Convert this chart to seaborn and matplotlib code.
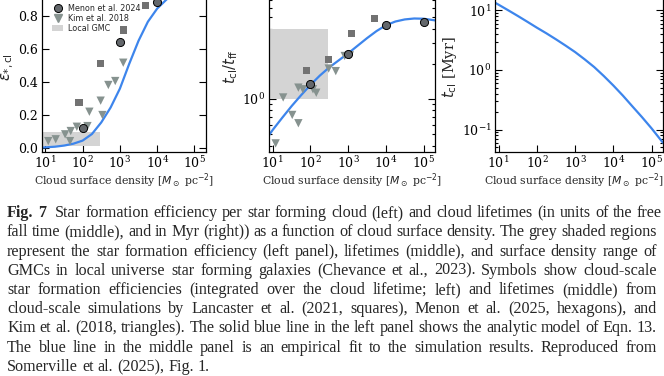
import numpy as np
import pandas as pd
import matplotlib
matplotlib.use("Agg")
import matplotlib.pyplot as plt
import seaborn as sns
from matplotlib.patches import Patch
from matplotlib.lines import Line2D
from matplotlib.ticker import NullFormatter

# ---------------- data ----------------
lancaster_sigma = [80, 300, 1250, 5000]
lancaster_eps = [0.277, 0.513, 0.715, 0.862]
lancaster_tratio = [1.75, 2.19, 3.6, 4.84]

menon_sigma = [100, 1000, 10000, 100000]
menon_eps = [0.121, 0.64, 0.883, 0.96]
menon_tratio = [1.34, 2.44, 4.3, 4.58]

kim_sigma_eps = [12, 19, 34, 48, 46, 70, 135, 152, 305, 340, 490, 750, 1230]
kim_eps = [0.042, 0.053, 0.083, 0.103, 0.042, 0.129, 0.133, 0.22, 0.287, 0.2, 0.382, 0.406, 0.517]
kim_sigma_t = [12, 19, 33, 48, 48, 63, 117, 143, 305, 470, 810, 1110]
kim_tratio = [0.417, 1.03, 0.73, 0.62, 1.25, 1.21, 1.21, 1.13, 1.82, 1.73, 2.33, 2.36]

model_sigma_eps = [8, 18, 32, 56, 100, 178, 316, 562, 1000, 1778, 3162, 5623, 10000, 17783, 31623, 200000]
model_eps = [0.003, 0.008, 0.015, 0.026, 0.045, 0.085, 0.155, 0.245, 0.36, 0.51, 0.65, 0.765, 0.845, 0.90, 0.935, 0.98]

curve_sigma = [8, 10, 18, 32, 56, 100, 178, 316, 562, 1000, 1778, 3162, 5623,
               10000, 17783, 31623, 56234, 100000, 200000]
fit_tratio = [0.49, 0.543, 0.692, 0.871, 1.072, 1.318, 1.585, 1.862, 2.138, 2.455,
              2.851, 3.311, 3.802, 4.266, 4.592, 4.786, 4.875, 4.853, 4.699]
tcl_myr = [13.49, 12.45, 10.0, 8.04, 6.46, 5.13, 4.12, 3.27, 2.57, 2.0, 1.51, 1.12,
           0.794, 0.55, 0.372, 0.245, 0.162, 0.105, 0.060]

gmc_sigma_range = [1, 300]
gmc_eps_range = [0.01, 0.1]
gmc_tratio_range = [1.0, 4.0]

xticks = [10, 100, 1000, 10000, 100000]
eps_ticks = [0.0, 0.2, 0.4, 0.6, 0.8]
tratio_ticks = [1.0]
tcl_ticks = [0.1, 1.0, 10.0]
legend_labels = ["Menon et al. 2024", "Kim et al. 2018", "Local GMC"]

caption_lines = [
    "Fig. 7 Star formation efficiency per star forming cloud (left) and cloud lifetimes (in units of the free",
    "fall time (middle), and in Myr (right)) as a function of cloud surface density. The grey shaded regions",
    "represent the star formation efficiency (left panel), lifetimes (middle), and surface density range of",
    "GMCs in local universe star forming galaxies (Chevance et al., 2023). Symbols show cloud-scale",
    "star formation efficiencies (integrated over the cloud lifetime; left) and lifetimes (middle) from",
    "cloud-scale simulations by Lancaster et al. (2021, squares), Menon et al. (2025, hexagons), and",
    "Kim et al. (2018, triangles). The solid blue line in the left panel shows the analytic model of Eqn. 13.",
    "The blue line in the middle panel is an empirical fit to the simulation results. Reproduced from",
    "Somerville et al. (2025), Fig. 1.",
]

# ---------------- style ----------------
sns.set_style("ticks")
plt.rcParams.update({
    "font.family": "serif",
    "font.serif": ["DejaVu Serif"],
    "mathtext.fontset": "dejavusans",
    "axes.linewidth": 0.9,
    "axes.edgecolor": "black",
    "xtick.color": "black",
    "ytick.color": "black",
})

BLUE = "#3d85ec"
C_SQ = "#727272"
C_CI = "#63676b"
C_TRI = "#86928f"
C_BOX = "#d4d4d4"

W, H = 664, 376
fig = plt.figure(figsize=(W / 100, H / 100), dpi=100)


def rect(x0, x1, ytop, ybot):
    return [x0 / W, 1 - ybot / H, (x1 - x0) / W, (ybot - ytop) / H]


ax1 = fig.add_axes(rect(41.7, 205.7, -18, 152))
ax2 = fig.add_axes(rect(269, 435, -18, 152))
ax3 = fig.add_axes(rect(495, 663, -18, 152))

xlabel = r"Cloud surface density [$M_\odot$ pc$^{-2}$]"

# ---- left panel ----
ax1.fill_between(gmc_sigma_range, gmc_eps_range[0], gmc_eps_range[1], color=C_BOX, lw=0, zorder=1)
sns.lineplot(x=model_sigma_eps, y=model_eps, ax=ax1, color=BLUE, lw=1.6, zorder=2)
sns.scatterplot(x=lancaster_sigma, y=lancaster_eps, ax=ax1, marker="s", s=26, color=C_SQ, edgecolor="none", zorder=3)
sns.scatterplot(x=menon_sigma, y=menon_eps, ax=ax1, marker="o", s=34, color=C_CI, edgecolor="black", linewidth=0.7, zorder=4)
sns.scatterplot(x=kim_sigma_eps, y=kim_eps, ax=ax1, marker="v", s=36, color=C_TRI, edgecolor="none", zorder=3)
ax1.set_xscale("log")
ax1.set_xlim(8, 2e5)
ax1.set_ylim(-0.024, 1.006)
ax1.set_yticks(eps_ticks)
ax1.set_ylabel(r"$\varepsilon_{*,\rm cl}$", fontsize=10.5, labelpad=2)

handles = [
    Line2D([], [], marker="o", ls="", color=C_CI, markeredgecolor="black", markeredgewidth=0.7, markersize=5.8),
    Line2D([], [], marker="v", ls="", color=C_TRI, markersize=6),
    Patch(facecolor=C_BOX, edgecolor="none"),
]
ax1.legend(handles, legend_labels, loc="upper left", bbox_to_anchor=(0.063, 0.872), frameon=False,
           prop={"family": "DejaVu Sans", "size": 5.8}, borderpad=0, borderaxespad=0,
           handlelength=1.36, handletextpad=0.62, labelspacing=0.12)

# ---- middle panel ----
ax2.fill_between(gmc_sigma_range, gmc_tratio_range[0], gmc_tratio_range[1], color=C_BOX, lw=0, zorder=1)
sns.lineplot(x=curve_sigma, y=fit_tratio, ax=ax2, color=BLUE, lw=1.6, zorder=2)
sns.scatterplot(x=lancaster_sigma, y=lancaster_tratio, ax=ax2, marker="s", s=26, color=C_SQ, edgecolor="none", zorder=3)
sns.scatterplot(x=kim_sigma_t, y=kim_tratio, ax=ax2, marker="v", s=36, color=C_TRI, edgecolor="none", zorder=3)
sns.scatterplot(x=menon_sigma, y=menon_tratio, ax=ax2, marker="o", s=34, color=C_CI, edgecolor="black", linewidth=0.7, zorder=4)
ax2.set_xscale("log")
ax2.set_yscale("log")
ax2.set_xlim(8, 2e5)
ax2.set_ylim(0.352, 10)
ax2.set_yticks(tratio_ticks)
ax2.set_yticklabels([r"$\mathdefault{10^{0}}$"])
ax2.set_ylabel(r"$t_{\rm cl}/t_{\rm ff}$", fontsize=10.5, labelpad=2)

# ---- right panel ----
sns.lineplot(x=curve_sigma, y=tcl_myr, ax=ax3, color=BLUE, lw=1.6, zorder=2)
ax3.set_xscale("log")
ax3.set_yscale("log")
ax3.set_xlim(8, 2e5)
ax3.set_ylim(0.042, 30)
ax3.set_yticks(tcl_ticks)
ax3.set_ylabel(r"$t_{\rm cl}$ [Myr]", fontsize=10.5, labelpad=2)

for ax in (ax1, ax2, ax3):
    ax.set_xticks(xticks)
    ax.xaxis.set_minor_formatter(NullFormatter())
    if ax is not ax1:
        ax.yaxis.set_minor_formatter(NullFormatter())
    ax.set_xlabel(xlabel, fontsize=7.8, labelpad=0)
    ax.tick_params(which="both", direction="in", top=True, right=True, labelsize=9, width=0.8)
    ax.tick_params(which="major", length=5, pad=2.5)
    ax.tick_params(which="minor", length=2.5)
    for s in ax.spines.values():
        s.set_visible(True)
        s.set_color("black")
    leg = ax.get_legend()
    if leg is not None and ax is not ax1:
        leg.remove()

# keep the right-panel label inside the page, at the same height as the others
fig.canvas.draw()
renderer = fig.canvas.get_renderer()
top_disp = ax1.xaxis.label.get_window_extent(renderer).y1
y_ax = ax3.transAxes.inverted().transform((0, top_disp))[1]
ax3.xaxis.set_label_coords(0.47, y_ax)

# ---------------- caption (justified) ----------------
fig.canvas.draw()
renderer = fig.canvas.get_renderer()
X0, X1 = 7, 657
base = 10.0


def make_words(line, idx, size):
    words = line.split(" ")
    objs = []
    for j, w in enumerate(words):
        bold = (idx == 0 and j < 2)
        t = fig.text(0, 0, w, fontsize=size, family="Liberation Serif",
                     fontweight="bold" if bold else "normal", va="baseline", ha="left")
        objs.append(t)
    return objs


need = 0
for i, line in enumerate(caption_lines[:-1]):
    objs = make_words(line, i, base)
    widths = [o.get_window_extent(renderer).width for o in objs]
    space = 0.16 * base * 100 / 72
    need = max(need, sum(widths) + space * (len(objs) - 1))
    for o in objs:
        o.remove()
size = min(11.6, base * (X1 - X0) / need)

for i, line in enumerate(caption_lines):
    objs = make_words(line, i, size)
    widths = [o.get_window_extent(renderer).width for o in objs]
    if i < len(caption_lines) - 1:
        gap = (X1 - X0 - sum(widths)) / (len(objs) - 1)
    else:
        gap = 0.25 * size * 100 / 72
    ybase = 217 + 19.25 * i
    x = X0
    for j, (o, w) in enumerate(zip(objs, widths)):
        o.set_position((x / W, 1 - ybase / H))
        x += w + gap + (0.3 * size * 100 / 72 if (i == 0 and j == 1) else 0)

fig.savefig("out.png", dpi=100)
